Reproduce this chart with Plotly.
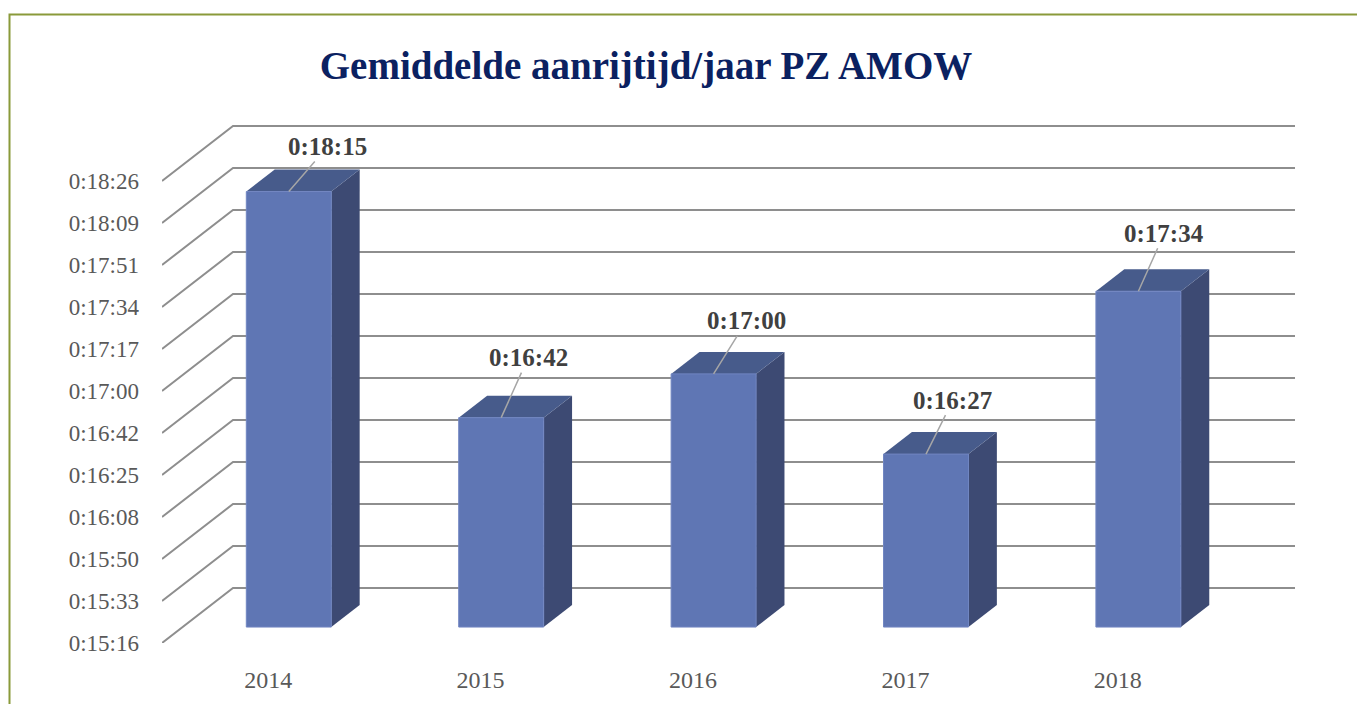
import plotly.graph_objects as go

# ---------------- data ----------------
years = ["2014", "2015", "2016", "2017", "2018"]
avg_time = ["0:18:15", "0:16:42", "0:17:00", "0:16:27", "0:17:34"]
y_tick_labels = ["0:15:16", "0:15:33", "0:15:50", "0:16:08", "0:16:25", "0:16:42",
                 "0:17:00", "0:17:17", "0:17:34", "0:17:51", "0:18:09", "0:18:26"]
axis_min_days = 0.0106
major_unit_days = 0.0002
title_text = "Gemiddelde aanrijtijd/jaar PZ AMOW"


def to_sec(t):
    h, m, s = t.split(":")
    return int(h) * 3600 + int(m) * 60 + int(s)


values = [to_sec(t) for t in avg_time]
tick_vals = [(axis_min_days + k * major_unit_days) * 86400 for k in range(len(y_tick_labels))]
y0 = tick_vals[0]

# ---------------- geometry / style ----------------
W, H = 1357, 704
ML, MB, MT = 162, 61, 100
PX_CAT = 212.4          # px per category
PX_SEC = 2.4306         # px per second
DEPTH_PX = (71, 55)     # oblique depth offset of the walls
BAR_W = 0.4
F_FRONT, F_BACK = 0.29, 0.69
label_offsets = [(39, -45), (27, -60), (33, -53), (27, -54), (26, -58)]

DX = DEPTH_PX[0] / PX_CAT
DY = DEPTH_PX[1] / PX_SEC
n = len(years)
x_range = [-0.5, n - 0.5 + DX]
plot_w = (x_range[1] - x_range[0]) * PX_CAT
MR = W - ML - plot_w
plot_h = H - MT - MB
y_range = [y0, y0 + plot_h / PX_SEC]

FRONT_C = "#5F76B4"
TOP_C = "#475B8B"
SIDE_C = "#3D4A73"
GRID_C = "#8E8E8E"
TEXT_C = "#595959"
LABEL_C = "#404040"
FONT = "Liberation Serif"

fig = go.Figure()

# walls: back wall horizontal lines and side wall diagonals
gx, gy = [], []
for t in tick_vals:
    gx += [x_range[0], x_range[0] + DX, n - 0.5 + DX, None]
    gy += [t, t + DY, t + DY, None]
fig.add_trace(go.Scatter(x=gx, y=gy, mode="lines", line=dict(color=GRID_C, width=2),
                         hoverinfo="skip", showlegend=False))

# 3D bars
for i, v in enumerate(values):
    xl, xr = i - BAR_W / 2, i + BAR_W / 2
    fx, fy = F_FRONT * DX, F_FRONT * DY
    bx, by = F_BACK * DX, F_BACK * DY
    # side face
    fig.add_trace(go.Scatter(
        x=[xr + fx, xr + bx, xr + bx, xr + fx, xr + fx],
        y=[y0 + fy, y0 + by, v + by, v + fy, y0 + fy],
        fill="toself", fillcolor=SIDE_C, mode="lines", line=dict(width=0, color=SIDE_C),
        hoverinfo="skip", showlegend=False))
    # top face
    fig.add_trace(go.Scatter(
        x=[xl + fx, xr + fx, xr + bx, xl + bx, xl + fx],
        y=[v + fy, v + fy, v + by, v + by, v + fy],
        fill="toself", fillcolor=TOP_C, mode="lines", line=dict(width=0, color=TOP_C),
        hoverinfo="skip", showlegend=False))
    # front face
    fig.add_trace(go.Scatter(
        x=[xl + fx, xr + fx, xr + fx, xl + fx, xl + fx],
        y=[y0 + fy, y0 + fy, v + fy, v + fy, y0 + fy],
        fill="toself", fillcolor=FRONT_C, mode="lines", line=dict(width=1, color="#7186C2"),
        name=years[i], hovertemplate=years[i] + ": " + avg_time[i] + "<extra></extra>",
        showlegend=False))
    fig.add_annotation(
        x=i + fx, y=v + fy, xref="x", yref="y", text="<b>" + avg_time[i] + "</b>",
        showarrow=True, arrowhead=0, arrowwidth=1.5, arrowcolor="#A6A6A6",
        ax=label_offsets[i][0], ay=label_offsets[i][1],
        font=dict(family=FONT, size=25, color=LABEL_C))

# frame border
def px_to_paper_x(px):
    return (px - ML) / plot_w


def px_to_paper_y(py):
    return (H - MB - py) / plot_h


fig.add_shape(type="rect", xref="paper", yref="paper",
              x0=px_to_paper_x(9.5), x1=px_to_paper_x(W + 10),
              y0=px_to_paper_y(H + 10), y1=px_to_paper_y(14.5),
              line=dict(color="#8A9A3A", width=2), layer="below")

fig.update_layout(
    width=W, height=H,
    margin=dict(l=ML, r=MR, t=MT, b=MB, pad=0),
    paper_bgcolor="white", plot_bgcolor="white",
    title=dict(text="<b>" + title_text + "</b>", x=646 / W, xanchor="center",
               y=1 - 65 / H, yanchor="middle", yref="container",
               font=dict(family=FONT, size=39, color="#0B2161")),
    xaxis=dict(range=x_range, tickmode="array", tickvals=list(range(n)), ticktext=years,
               showgrid=False, zeroline=False, showline=False, ticks="",
               ticklabelstandoff=20,
               tickfont=dict(family=FONT, size=24, color=TEXT_C)),
    yaxis=dict(range=y_range, tickmode="array", tickvals=tick_vals, ticktext=y_tick_labels,
               showgrid=False, zeroline=False, showline=False, ticks="",
               ticklabelstandoff=22,
               tickfont=dict(family=FONT, size=23, color=TEXT_C)),
    showlegend=False,
)

fig.write_html("out.html", config={"displayModeBar": False},
               post_script="document.body.style.margin='0';")
